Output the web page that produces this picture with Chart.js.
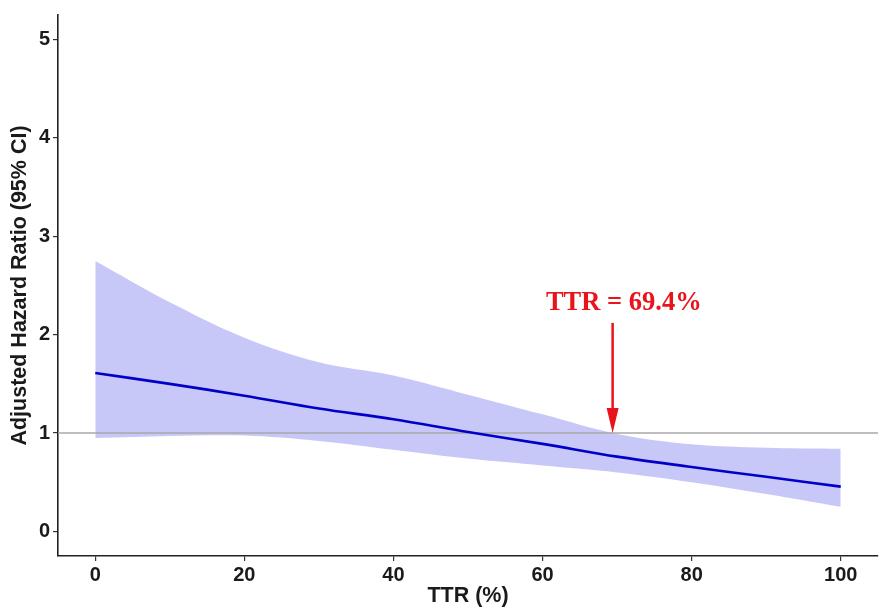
<!DOCTYPE html>
<html>
<head>
<meta charset="utf-8">
<script src="https://cdn.jsdelivr.net/npm/chart.js@4.4.1/dist/chart.umd.min.js"></script>
<style>
  html, body { margin: 0; padding: 0; background: #ffffff; }
  #wrap { width: 880px; height: 609px; }
</style>
</head>
<body>
<div id="wrap"><canvas id="c" width="880" height="609"></canvas></div>
<script>
// ---- data ----
const ttr     = [0, 10, 20, 30, 40, 50, 60, 70, 80, 90, 100];
const hr      = [1.61, 1.50, 1.38, 1.25, 1.14, 1.01, 0.89, 0.76, 0.655, 0.555, 0.455];
const ciUpper = [2.75, 2.33, 1.97, 1.72, 1.585, 1.39, 1.19, 0.99, 0.885, 0.85, 0.84];
const ciLower = [0.95, 0.97, 0.975, 0.92, 0.83, 0.74, 0.67, 0.60, 0.50, 0.38, 0.25];
const refHR   = 1;
const refX    = [-5, 105];
const xTicks  = [0, 20, 40, 60, 80, 100];
const yTicks  = [0, 1, 2, 3, 4, 5];
const cutoffTTR = 69.4;
const cutoffLabel = 'TTR = 69.4%';
const xTitle = 'TTR (%)';
const yTitle = 'Adjusted Hazard Ratio (95% CI)';

const pts = (xs, ys) => xs.map((x, i) => ({ x: x, y: ys[i] }));

const annotationPlugin = {
  id: 'cutoffArrow',
  afterDatasetsDraw(chart) {
    const ctx = chart.ctx;
    const xs = chart.scales.x, ys = chart.scales.y;
    const ax = xs.getPixelForValue(cutoffTTR);
    const yEnd = ys.getPixelForValue(refHR);
    const yStart = ys.getPixelForValue(2.12);
    ctx.save();
    ctx.strokeStyle = '#e8131b';
    ctx.fillStyle = '#e8131b';
    ctx.lineWidth = 2.5;
    ctx.beginPath();
    ctx.moveTo(ax, yStart);
    ctx.lineTo(ax, yEnd - 20);
    ctx.stroke();
    ctx.beginPath();
    ctx.moveTo(ax - 6, yEnd - 25);
    ctx.lineTo(ax + 6, yEnd - 25);
    ctx.lineTo(ax, yEnd);
    ctx.closePath();
    ctx.fill();
    ctx.font = 'bold 26.5px "Liberation Serif", "Times New Roman", serif';
    ctx.textAlign = 'center';
    ctx.textBaseline = 'alphabetic';
    ctx.fillText(cutoffLabel, xs.getPixelForValue(70.9), ys.getPixelForValue(2.25));
    ctx.restore();
  }
};

const tickFont = { family: '"Liberation Sans", Arial, sans-serif', size: 20, weight: 'bold' };
const titleFont = { family: '"Liberation Sans", Arial, sans-serif', size: 21.5, weight: 'bold' };

new Chart(document.getElementById('c'), {
  type: 'line',
  data: {
    datasets: [
      { label: 'HR', data: pts(ttr, hr), borderColor: '#0000c8', borderWidth: 2.6,
        pointRadius: 0, fill: false, tension: 0.35 },
      { label: 'ref', data: pts(refX, refX.map(() => refHR)), borderColor: '#a8a8a8', borderWidth: 1.6,
        pointRadius: 0, fill: false },
      { label: 'upper', data: pts(ttr, ciUpper), borderColor: 'rgba(0,0,0,0)', borderWidth: 0,
        pointRadius: 0, backgroundColor: '#c8c8f8', fill: '+1', tension: 0.35 },
      { label: 'lower', data: pts(ttr, ciLower), borderColor: 'rgba(0,0,0,0)', borderWidth: 0,
        pointRadius: 0, fill: false, tension: 0.35 }
    ]
  },
  options: {
    responsive: false,
    animation: false,
    events: [],
    layout: { padding: { left: 0, top: 14, right: 2, bottom: 0 } },
    plugins: { legend: { display: false }, tooltip: { enabled: false } },
    scales: {
      x: {
        type: 'linear', min: -5, max: 105,
        afterBuildTicks: (s) => { s.ticks = xTicks.map(v => ({ value: v })); },
        afterFit: (s) => { s.height = 53; },
        ticks: { color: '#1a1a1a', font: tickFont, padding: 2, maxRotation: 0 },
        grid: { drawOnChartArea: false, drawTicks: true, tickLength: 5, color: '#333333', lineWidth: 1.2 },
        border: { display: true, color: '#222222', width: 1.6 },
        title: { display: true, text: xTitle, color: '#1a1a1a', font: titleFont, padding: { top: 0, bottom: 0 } }
      },
      y: {
        type: 'linear', min: -0.25, max: 5.25,
        afterBuildTicks: (s) => { s.ticks = yTicks.map(v => ({ value: v })); },
        afterFit: (s) => { s.width = 58; },
        ticks: { color: '#1a1a1a', font: tickFont, padding: 3 },
        grid: { drawOnChartArea: false, drawTicks: true, tickLength: 5, color: '#333333', lineWidth: 1.2 },
        border: { display: true, color: '#222222', width: 1.6 },
        title: { display: true, text: yTitle, color: '#1a1a1a', font: titleFont, padding: { top: 7, bottom: 0 } }
      }
    }
  },
  plugins: [annotationPlugin]
});
</script>
</body>
</html>
